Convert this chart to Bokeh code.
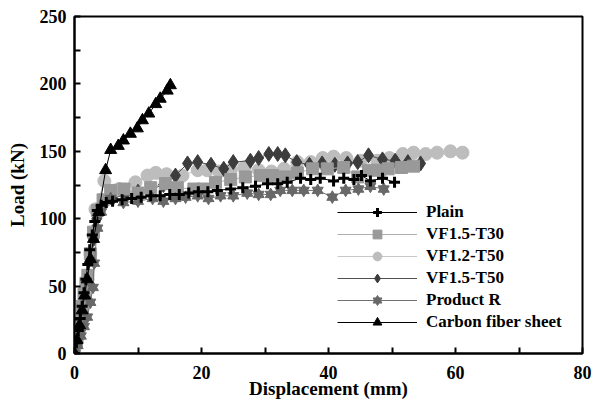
from bokeh.plotting import figure
from bokeh.models import FixedTicker, Legend, LegendItem, Range1d
from bokeh.embed import file_html
from bokeh.resources import INLINE

# ---- data ----
plain_x = [0, 0.3, 0.6, 0.9, 1.2, 1.5, 1.8, 2.1, 2.4, 2.8, 3.2, 3.6, 4.2, 5.0, 6.0, 7.5, 9.0, 10.5, 12.0,
           13.5, 15.0, 16.5, 18.0, 19.5, 21.0, 22.5, 24.6, 26.5, 28.5, 30.4, 32.0, 33.5, 35.6, 37.2, 38.7,
           40.8, 42.4, 44.0, 45.2, 46.6, 48.5, 50.4]
plain_y = [0, 8, 17, 26, 35, 45, 55, 66, 77, 88, 98, 106, 110, 112, 113, 114, 115, 116, 117,
           117, 118, 118, 119, 120, 120, 121, 122, 123, 124, 126, 126, 127, 130, 129, 130,
           128, 130, 129, 132, 128, 130, 127]

t30_x = [0, 0.3, 0.6, 0.9, 1.2, 1.5, 1.8, 2.1, 2.5, 3.0, 3.6, 4.5, 5.7, 7.8, 10.0, 12.0, 14.3, 16.2,
         18.8, 20.3, 22.2, 24.6, 26.9, 29.3, 31.2, 33.2, 35.1, 37.5, 39.8, 42.4, 44.6, 46.3, 48.0,
         49.4, 51.5, 53.4]
t30_y = [0, 8, 17, 26, 35, 44, 52, 58, 74, 90, 106, 114, 121, 122, 119, 123, 126, 123,
         122, 122, 127, 129, 131, 132, 132, 131, 134, 137, 137, 138, 131, 136, 136,
         137, 138, 139]

t50_x = [0, 0.4, 0.8, 1.2, 1.6, 2.0, 2.5, 3.3, 4.7, 7.0, 9.6, 11.5, 12.8, 14.5, 17.0, 19.4, 20.9,
         22.8, 24.6, 26.7, 29.0, 31.0, 33.0, 35.1, 37.2, 39.1, 40.8, 42.8, 45.0, 47.7, 49.6, 51.7,
         53.4, 55.3, 57.1, 59.2, 61.1]
t50_y = [0, 10, 21, 32, 43, 55, 74, 107, 128, 122, 127, 132, 134, 133, 132, 136, 136,
         135, 136, 138, 136, 135, 137, 142, 142, 145, 146, 145, 143, 143, 145, 148,
         149, 148, 149, 150, 149]

f15_x = [0, 0.4, 0.8, 1.2, 1.6, 2.0, 2.5, 3.0, 3.5, 4.5, 6.0, 8.0, 10.0, 12.0, 14.0, 15.9, 17.8,
         19.4, 21.5, 23.5, 25.0, 27.7, 29.0, 30.6, 32.0, 33.2, 35.0, 37.0, 39.0, 41.0, 43.0, 44.6,
         46.3, 48.5, 50.5, 52.5, 54.5]
f15_y = [0, 10, 21, 32, 43, 55, 70, 85, 100, 110, 115, 118, 120, 122, 125, 132, 141,
         142, 140, 137, 142, 143, 145, 148, 148, 147, 142, 140, 141, 140, 141, 142,
         147, 144, 143, 142, 141]

prod_x = [0, 0.5, 1.0, 1.5, 2.0, 2.5, 2.9, 3.1, 3.6, 4.2, 5.7, 7.7, 10.0, 12.3, 14.0, 15.9, 17.5,
          19.4, 21.1, 23.0, 25.0, 27.2, 29.0, 30.9, 32.4, 34.3, 36.1, 38.3, 40.6, 42.7, 44.7,
          46.6, 48.7]
prod_y = [0, 6, 13, 20, 27, 38, 49, 67, 93, 105, 115, 112, 113, 115, 113, 115, 116,
          117, 115, 117, 117, 119, 118, 118, 121, 121, 121, 121, 116, 121, 122,
          124, 122]

cf_x = [0, 0.4, 0.8, 1.2, 1.6, 2.0, 2.5, 3.0, 3.8, 4.9, 5.7, 6.9, 7.7, 8.8, 9.9, 10.7, 11.7,
        12.8, 13.5, 14.6, 15.1]
cf_y = [0, 10, 21, 32, 43, 55, 70, 85, 105, 136, 151, 154, 158, 163, 167, 173, 178,
        185, 189, 195, 199]

labels = ["Plain", "VF1.5-T30", "VF1.2-T50", "VF1.5-T50", "Product R", "Carbon fiber sheet"]

x_ticks = [0, 10, 20, 30, 40, 50, 60, 70, 80]
x_tick_labels = ["0", "", "20", "", "40", "", "60", "", "80"]
y_ticks = [0, 25, 50, 75, 100, 125, 150, 175, 200, 225, 250]
y_tick_labels = ["0", "", "50", "", "100", "", "150", "", "200", "", "250"]

FONT = "Liberation Serif"

p = figure(width=593, height=401, output_backend="svg", toolbar_location=None,
           x_range=Range1d(0, 80), y_range=Range1d(0, 250),
           min_border_left=74, min_border_right=11, min_border_top=16, min_border_bottom=48)

p.xgrid.visible = False
p.ygrid.visible = False
p.outline_line_color = "black"
p.outline_line_width = 2
p.background_fill_color = "white"
p.border_fill_color = "white"

for ax in (p.xaxis[0], p.yaxis[0]):
    ax.axis_line_width = 2
    ax.major_tick_in = 6
    ax.major_tick_out = 0
    ax.major_tick_line_width = 2
    ax.minor_tick_line_color = None
    ax.major_label_text_font = FONT
    ax.major_label_text_font_style = "bold"
    ax.major_label_text_font_size = "18px"
    ax.major_label_text_color = "black"
    ax.axis_label_text_font = FONT
    ax.axis_label_text_font_style = "bold"
    ax.axis_label_text_font_size = "19px"
    ax.axis_label_text_color = "black"

p.xaxis.ticker = FixedTicker(ticks=x_ticks)
p.xaxis.major_label_overrides = {t: l for t, l in zip(x_ticks, x_tick_labels)}
p.yaxis.ticker = FixedTicker(ticks=y_ticks)
p.yaxis.major_label_overrides = {t: l for t, l in zip(y_ticks, y_tick_labels)}
p.xaxis.axis_label = "Displacement (mm)"
p.yaxis.axis_label = "Load (kN)"
p.xaxis.major_label_standoff = 12
p.yaxis.major_label_standoff = 8
p.xaxis.axis_label_standoff = -4
p.yaxis.axis_label_standoff = 9

# VF1.2-T50 circles
l = p.line(t50_x, t50_y, line_color="#c8c8c8", line_width=1)
m = p.scatter(t50_x, t50_y, marker="circle", size=13, fill_color="#bdbdbd", line_color="#bdbdbd")
it_t50 = LegendItem(label=labels[2], renderers=[l, m])

# VF1.5-T50 diamonds
l = p.line(f15_x, f15_y, line_color="#505050", line_width=1)
m = p.scatter(f15_x, f15_y, marker="diamond", size=15, fill_color="#3c3c3c", line_color="#3c3c3c")
it_f15 = LegendItem(label=labels[3], renderers=[l, m])

# VF1.5-T30 squares
l = p.line(t30_x, t30_y, line_color="#b0b0b0", line_width=1)
m = p.scatter(t30_x, t30_y, marker="square", size=12, fill_color="#999999", line_color="#999999")
it_t30 = LegendItem(label=labels[1], renderers=[l, m])

# Product R six-point stars
l = p.line(prod_x, prod_y, line_color="#707070", line_width=1)
m1 = p.scatter(prod_x, prod_y, marker="triangle", size=11, fill_color="#686868", line_color="#686868")
m2 = p.scatter(prod_x, prod_y, marker="inverted_triangle", size=11, fill_color="#686868", line_color="#686868")
it_prod = LegendItem(label=labels[4], renderers=[l, m1, m2])

# Plain crosses
l = p.line(plain_x, plain_y, line_color="black", line_width=1)
m = p.scatter(plain_x, plain_y, marker="cross", size=11, line_color="black", line_width=3)
it_plain = LegendItem(label=labels[0], renderers=[l, m])

# Carbon fiber sheet triangles
l = p.line(cf_x, cf_y, line_color="black", line_width=1)
m = p.scatter(cf_x, cf_y, marker="triangle", size=12, fill_color="black", line_color="black")
it_cf = LegendItem(label=labels[5], renderers=[l, m])

legend = Legend(items=[it_plain, it_t30, it_t50, it_f15, it_prod, it_cf],
                location=(263, 20), orientation="vertical",
                glyph_width=80, glyph_height=22, label_height=22, spacing=0,
                label_standoff=9, padding=0, margin=0,
                border_line_alpha=0, background_fill_alpha=0,
                label_text_font=FONT, label_text_font_style="bold",
                label_text_font_size="17px", label_text_color="black")
p.add_layout(legend)

open("out.html", "w").write(file_html(p, INLINE))
